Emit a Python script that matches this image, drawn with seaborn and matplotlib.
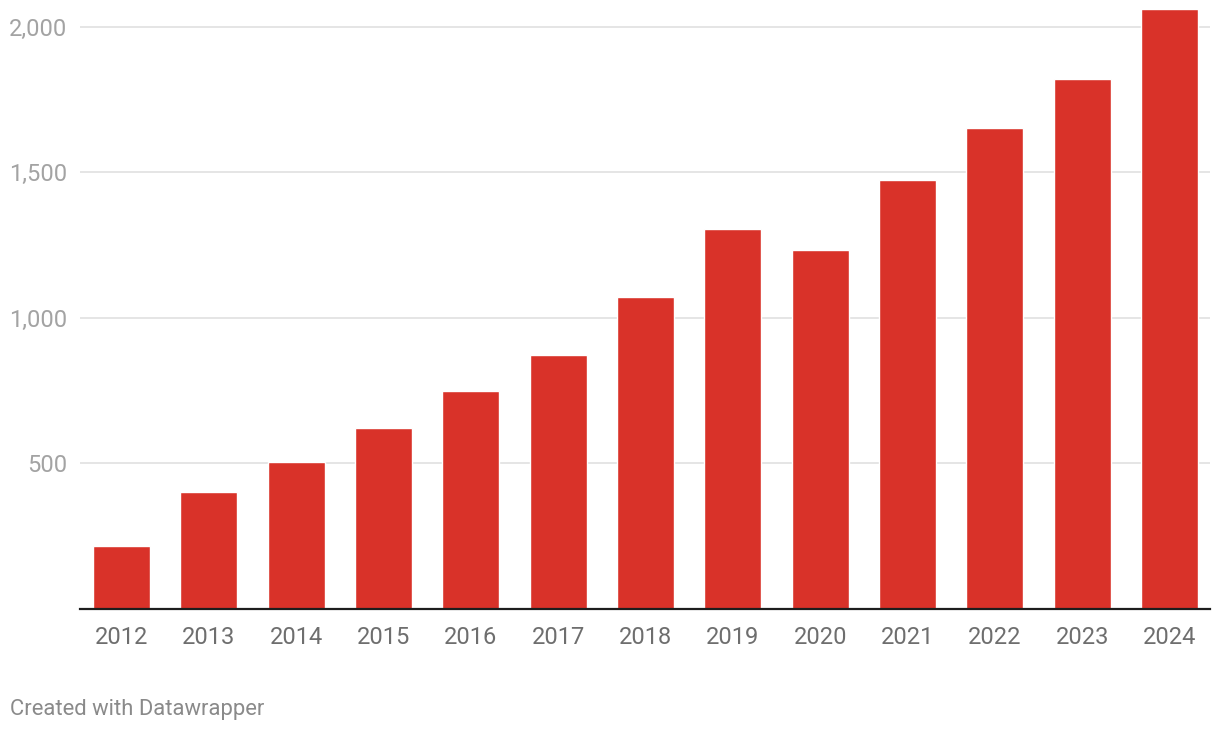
import pandas as pd
import matplotlib.pyplot as plt
import seaborn as sns

# Values
years = ['2012', '2013', '2014', '2015', '2016', '2017', '2018',
         '2019', '2020', '2021', '2022', '2023', '2024']
values = [215, 401, 504, 621, 748, 871, 1071, 1304, 1232, 1473, 1651, 1820, 2060]
y_ticks = [500, 1000, 1500, 2000]
y_tick_labels = ['500', '1,000', '1,500', '2,000']

df = pd.DataFrame({'Year': years, 'Value': values})

sns.set_style('white')
plt.rcParams['font.family'] = ['Roboto', 'DejaVu Sans']

fig = plt.figure(figsize=(12.2, 7.32), dpi=100)
ax = fig.add_axes([80 / 1220, 123 / 732, 1130 / 1220, 599 / 732])

sns.barplot(data=df, x='Year', y='Value', color='#d93229', width=0.653,
            saturation=1, ax=ax, zorder=3)

ax.set_xlim(-0.475, 12.464)
ax.set_ylim(0, 2058)
ax.set_yticks(y_ticks)
ax.set_yticklabels(y_tick_labels)
ax.set_xlabel('')
ax.set_ylabel('')

ax.grid(axis='y', color='#e3e3e3', linewidth=1.3, zorder=0)
ax.grid(axis='x', visible=False)
for side in ['top', 'right', 'left']:
    ax.spines[side].set_visible(False)
ax.spines['bottom'].set_color('#1d1d1d')
ax.spines['bottom'].set_linewidth(1.6)
ax.spines['bottom'].set_zorder(4)

ax.tick_params(axis='y', length=0, pad=9, labelsize=17, labelcolor='#a3a3a3')
ax.tick_params(axis='x', length=0, pad=12, labelsize=17, labelcolor='#6e6e6e')

fig.text(10 / 1220, 1 - 709 / 732, 'Created with Datawrapper', fontsize=15.8,
         color='#8a8a8a', va='center', ha='left')

fig.savefig('out.png', dpi=100, facecolor='white')
